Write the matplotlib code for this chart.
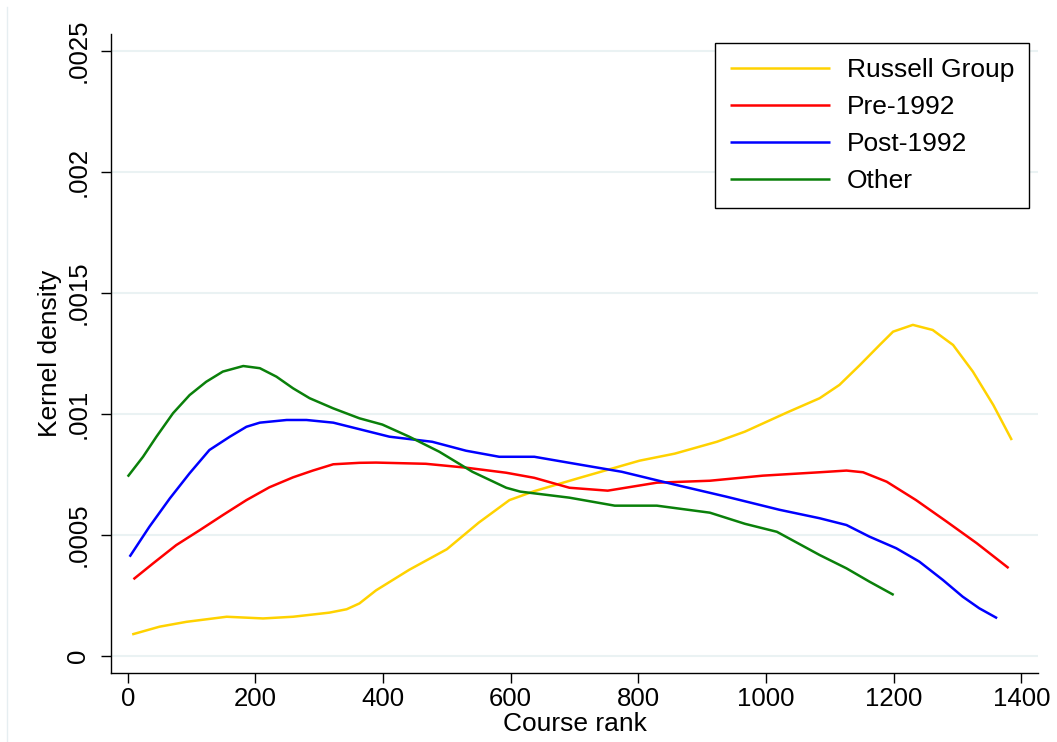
import matplotlib.pyplot as plt
from matplotlib.lines import Line2D

plt.rcParams['font.family'] = ['Liberation Sans', 'DejaVu Sans']

# Kernel density curves (course rank, density)
russell_x = [7, 50, 92, 155, 212, 259, 316, 343, 363, 389, 441, 500, 550, 598, 637, 708,
             802, 857, 923, 967, 1032, 1084, 1115, 1147, 1178, 1199, 1230, 1261, 1293,
             1324, 1356, 1385]
russell_y = [0.000088, 0.00012, 0.00014, 0.000161, 0.000154, 0.000161, 0.000178, 0.000192,
             0.000216, 0.00027, 0.000355, 0.00044, 0.00055, 0.000643, 0.00068, 0.000735,
             0.000806, 0.000835, 0.000884, 0.000926, 0.001004, 0.001064, 0.001119, 0.001201,
             0.001284, 0.001339, 0.001367, 0.001346, 0.001284, 0.001174, 0.001036, 0.000891]

pre_x = [9, 40, 76, 113, 149, 186, 222, 259, 290, 322, 363, 389, 467, 530, 593, 637, 692,
         752, 829, 912, 995, 1084, 1126, 1152, 1189, 1235, 1283, 1330, 1380]
pre_y = [0.000316, 0.000382, 0.000457, 0.000519, 0.000581, 0.000643, 0.000696, 0.000737,
         0.000765, 0.000791, 0.000797, 0.000798, 0.000793, 0.000777, 0.000756, 0.000735,
         0.000694, 0.000682, 0.000715, 0.000723, 0.000744, 0.000758, 0.000765, 0.000758,
         0.000719, 0.000643, 0.000554, 0.000465, 0.000362]

post_x = [3, 34, 66, 97, 128, 160, 186, 207, 249, 280, 322, 363, 410, 477, 530, 582, 637,
          692, 774, 857, 938, 1021, 1084, 1126, 1162, 1204, 1240, 1277, 1308, 1334, 1362]
post_y = [0.000409, 0.000533, 0.00065, 0.000754, 0.00085, 0.000905, 0.000946, 0.000963,
          0.000974, 0.000974, 0.000963, 0.000936, 0.000905, 0.000884, 0.000847, 0.000822,
          0.000822, 0.000797, 0.00076, 0.000707, 0.000657, 0.000603, 0.000568, 0.00054,
          0.000492, 0.000444, 0.000389, 0.000313, 0.000244, 0.000196, 0.000155]

other_x = [0, 24, 45, 71, 97, 123, 149, 181, 207, 233, 259, 285, 322, 363, 399, 441, 488,
           540, 593, 615, 692, 763, 829, 912, 967, 1017, 1084, 1126, 1162, 1200]
other_y = [0.00074, 0.000822, 0.000905, 0.001002, 0.001077, 0.001132, 0.001174, 0.001197,
           0.001188, 0.001153, 0.001105, 0.001064, 0.001022, 0.000981, 0.000955, 0.000905,
           0.000843, 0.00076, 0.000694, 0.000678, 0.000653, 0.00062, 0.00062, 0.000591,
           0.000545, 0.000512, 0.000416, 0.000361, 0.000306, 0.000251]

x_ticks = [0, 200, 400, 600, 800, 1000, 1200, 1400]
y_ticks = [0, 0.0005, 0.001, 0.0015, 0.002, 0.0025]
y_tick_labels = ['0', '.0005', '.001', '.0015', '.002', '.0025']

fig = plt.figure(figsize=(10.57, 7.42), dpi=100)
ax = fig.add_axes([0.105, 0.0934, 0.877, 0.8608])

for yt in y_ticks:
    ax.axhline(yt, color='#eaf2f3', linewidth=1.5, zorder=0)

line_kw = dict(linewidth=1.8, solid_joinstyle='round', solid_capstyle='butt')
ax.plot(russell_x, russell_y, color='#ffd200', label='Russell Group', **line_kw)
ax.plot(pre_x, pre_y, color='#ff0000', label='Pre-1992', **line_kw)
ax.plot(post_x, post_y, color='#0000ff', label='Post-1992', **line_kw)
ax.plot(other_x, other_y, color='#0a800a', label='Other', **line_kw)

ax.set_xlim(-26.2, 1426)
ax.set_ylim(-0.0000702, 0.002569)
ax.set_xticks(x_ticks)
ax.set_yticks(y_ticks)
ax.set_yticklabels(y_tick_labels, rotation=90, va='center')

for s in ['top', 'right']:
    ax.spines[s].set_visible(False)
for s in ['left', 'bottom']:
    ax.spines[s].set_linewidth(1.0)

ax.tick_params(axis='both', length=7, width=1.0, labelsize=18.5)
ax.tick_params(axis='y', pad=8)
ax.tick_params(axis='x', pad=3)

ax.set_xlabel('Course rank', fontsize=19, labelpad=1)
ax.set_ylabel('Kernel density', fontsize=19, labelpad=3)

leg = ax.legend(loc='upper right', bbox_to_anchor=(0.990, 0.9855), fontsize=19,
                fancybox=False, edgecolor='black', framealpha=1, borderaxespad=0,
                handlelength=3.79, handletextpad=0.64, labelspacing=0.5,
                borderpad=0.55)
leg.get_frame().set_linewidth(1.0)

# faint outer frame edge
fig.add_artist(Line2D([7 / 1057, 7 / 1057], [0, 735 / 742], color='#e6eef1',
                      linewidth=1.0, transform=fig.transFigure))

fig.savefig('out.png', dpi=100)
